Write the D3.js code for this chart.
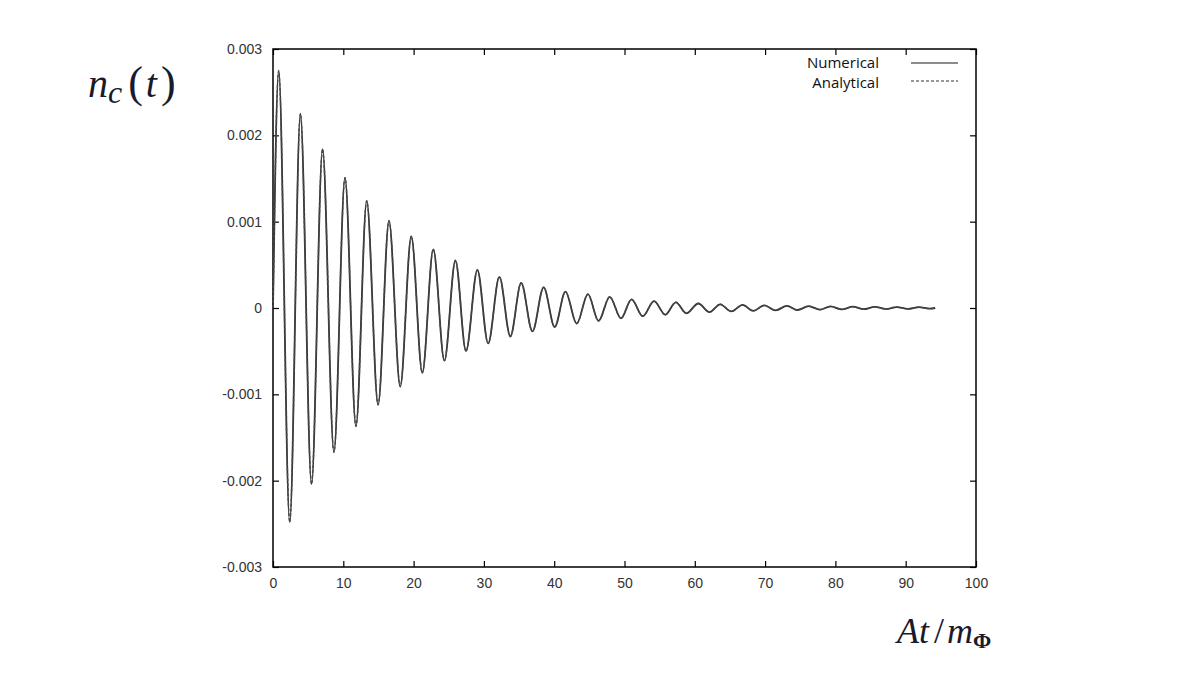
<!DOCTYPE html>
<html>
<head>
<meta charset="utf-8">
<script src="https://cdn.jsdelivr.net/npm/d3@7"></script>
<style>
  body { margin: 0; background: #fff; }
  svg { display: block; }
</style>
</head>
<body>
<div id="chart"></div>
<script>
// extrema of n_c(t) (t in At/m_phi)
var tVals = [0, 0.81, 2.38, 3.9, 5.48, 7.05, 8.67, 10.24, 11.8, 13.33, 14.95, 16.5, 18.1, 19.67, 21.24,
    22.8, 24.38, 25.95, 27.45, 29.07, 30.6, 32.2, 33.76, 35.3, 36.9, 38.5, 40.07, 41.6, 43.2, 44.8,
    46.3, 47.9, 49.5, 51.0, 52.6, 54.2, 55.8, 57.3, 58.8, 60.5, 62.1, 63.6, 65.2, 66.8, 68.3, 69.9,
    71.5, 73.1, 74.6, 76.2, 77.8, 79.3, 80.9, 82.5, 84.0, 85.6, 87.2, 88.7, 90.3, 91.9, 93.4, 94.2];
var numerical = [0, 0.00275, -0.00248, 0.00225, -0.00204, 0.00184, -0.00167, 0.00151, -0.00137, 0.00124,
    -0.00112, 0.00101, -0.00091, 0.00083, -0.00075, 0.00068, -0.00061, 0.00055, -0.00050, 0.00044,
    -0.00041, 0.00036, -0.00033, 0.00029, -0.00027, 0.00024, -0.00022, 0.00019, -0.00018, 0.00016,
    -0.00015, 0.00013, -0.00012, 0.00010, -0.000095, 0.00008, -0.000078, 0.000066, -0.000062, 0.000052,
    -0.000048, 0.000043, -0.00004, 0.000036, -0.000033, 0.00003, -0.000028, 0.000025, -0.000023, 0.000021,
    -0.000019, 0.000018, -0.000016, 0.000015, -0.000014, 0.000013, -0.000012, 0.000011, -0.00001, 0.000009,
    -0.000008, 0];
// analytical curve lies on top of the numerical one everywhere
var analytical = numerical.slice();

var xTicks = [0, 10, 20, 30, 40, 50, 60, 70, 80, 90, 100];
var yTicks = [-0.003, -0.002, -0.001, 0, 0.001, 0.002, 0.003];
var yTickLabels = ["-0.003", "-0.002", "-0.001", "0", "0.001", "0.002", "0.003"];
var seriesNames = ["Numerical", "Analytical"];

var W = 1196, H = 673;
var plotL = 273, plotR = 976, plotT = 49, plotB = 567;

var svg = d3.select("#chart").append("svg")
    .attr("width", W)
    .attr("height", H);

var x = d3.scaleLinear().domain([0, 100]).range([plotL, plotR]);
var y = d3.scaleLinear().domain([-0.003, 0.003]).range([plotB, plotT]);

// ticks (inward, mirrored on all sides)
var tickFmt = function(d, i) { return yTickLabels[i]; };
svg.append("g")
    .attr("transform", "translate(0," + plotB + ")")
    .call(d3.axisBottom(x).tickValues(xTicks).tickSize(-6).tickPadding(11).tickFormat(d3.format("d")))
    .call(function(g){ g.select(".domain").remove(); });
svg.append("g")
    .attr("transform", "translate(0," + plotT + ")")
    .call(d3.axisTop(x).tickValues(xTicks).tickSize(-6).tickFormat(""))
    .call(function(g){ g.select(".domain").remove(); });
svg.append("g")
    .attr("transform", "translate(" + plotL + ",0)")
    .call(d3.axisLeft(y).tickValues(yTicks).tickSize(-6).tickPadding(11).tickFormat(tickFmt))
    .call(function(g){ g.select(".domain").remove(); });
svg.append("g")
    .attr("transform", "translate(" + plotR + ",0)")
    .call(d3.axisRight(y).tickValues(yTicks).tickSize(-6).tickFormat(""))
    .call(function(g){ g.select(".domain").remove(); });

svg.selectAll(".tick line").attr("stroke", "#000").attr("stroke-width", 1.2);
svg.selectAll(".tick text")
    .attr("fill", "#333")
    .style("font-family", "'Liberation Sans', Arial, sans-serif")
    .style("font-size", "14px");

svg.append("rect")
    .attr("x", plotL).attr("y", plotT)
    .attr("width", plotR - plotL).attr("height", plotB - plotT)
    .attr("fill", "none")
    .attr("stroke", "#000")
    .attr("stroke-width", 1.5);

var line = function(vals) {
    return d3.line()
        .x(function(d, i){ return x(tVals[i]); })
        .y(function(d){ return y(d); })
        .curve(d3.curveMonotoneX)(vals);
};

svg.append("path")
    .attr("d", line(numerical))
    .attr("fill", "none")
    .attr("stroke", "#333")
    .attr("stroke-width", 1.8);

svg.append("path")
    .attr("d", line(analytical))
    .attr("fill", "none")
    .attr("stroke", "#4a4a4a")
    .attr("stroke-width", 1.4)
    .attr("stroke-dasharray", "3,2");

// legend
var legend = svg.append("g");
seriesNames.forEach(function(name, i){
    var ly = 63 + i * 20;
    legend.append("text")
        .attr("x", 879).attr("y", ly + 5)
        .attr("text-anchor", "end")
        .style("font-family", "'Open Sans', 'Noto Sans', sans-serif")
        .style("font-size", "15px")
        .attr("fill", "#111")
        .text(name);
    legend.append("line")
        .attr("x1", 911).attr("x2", 958)
        .attr("y1", ly - (i ? 2 : 0)).attr("y2", ly - (i ? 2 : 0))
        .attr("stroke", i ? "#777" : "#666")
        .attr("stroke-width", 1.3)
        .attr("stroke-dasharray", i ? "3,2" : null);
});

// axis titles
var yTitle = svg.append("text")
    .attr("x", 88).attr("y", 97)
    .style("font-family", "'Liberation Serif', 'Times New Roman', serif")
    .style("font-style", "italic")
    .style("font-size", "40px")
    .attr("fill", "#1a1a2a");
yTitle.append("tspan").text("n");
yTitle.append("tspan").attr("font-size", "32px").attr("dy", 6).text("c");
yTitle.append("tspan").attr("dy", -6).attr("dx", 6).style("font-style", "normal")
    .attr("font-size", "44px").text("(");
yTitle.append("tspan").attr("dx", 3).text("t");
yTitle.append("tspan").attr("dx", 4).style("font-style", "normal").attr("font-size", "44px").text(")");

var xTitle = svg.append("text")
    .attr("x", 897).attr("y", 643)
    .style("font-family", "'Liberation Serif', 'Times New Roman', serif")
    .style("font-style", "italic")
    .style("font-size", "36px")
    .attr("fill", "#1a1a2a");
xTitle.append("tspan").text("At");
xTitle.append("tspan").attr("dx", 5).style("font-style", "normal").text("/");
xTitle.append("tspan").attr("dx", 3).text("m");
xTitle.append("tspan").attr("dy", 5).style("font-style", "normal").style("font-weight", "bold")
    .attr("font-size", "22px").text("Φ");
</script>
</body>
</html>
